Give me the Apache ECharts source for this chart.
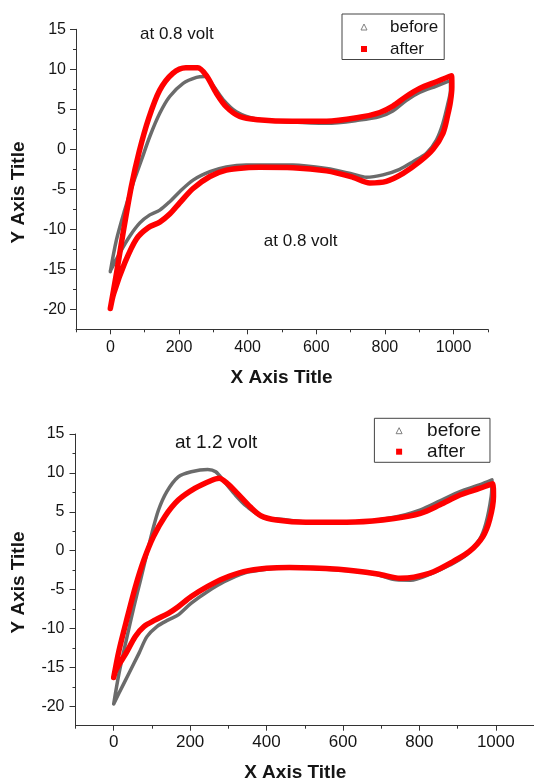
<!DOCTYPE html>
<html>
<head>
<meta charset="utf-8">
<title>CV before / after</title>
<script src="https://cdn.jsdelivr.net/npm/echarts@6/dist/echarts.min.js"></script>
<style>
  html, body { margin: 0; padding: 0; background: #fff; }
  #chart { width: 534px; height: 783px; }
</style>
</head>
<body>
<div id="chart"></div>
<script>
// tick values
const xMajor = [0, 200, 400, 600, 800, 1000];
const xMinor = [-100, 100, 300, 500, 700, 900, 1100];
const yMajor = [-20, -15, -10, -5, 0, 5, 10, 15];
const yMinor = [-17.5, -12.5, -7.5, -2.5, 2.5, 7.5, 12.5];

// top panel (0.8 volt) as [x, y]
const topBefore = [
  [0, -15.3], [18, -11.3], [42, -7.6], [66, -4.3], [91, -1.3], [115, 1.6], [144, 4.5],
  [173, 6.6], [212, 8.25], [251, 9.0], [275, 9.1], [299, 8.0], [328, 6.25], [367, 4.7],
  [425, 3.8], [532, 3.4], [630, 3.25], [726, 3.65], [785, 4.1], [823, 4.8], [862, 6.1],
  [901, 7.1], [950, 7.9], [991, 8.6], [991, 7.4], [985, 6.0], [969, 3.25], [950, 1.15],
  [921, -0.5], [882, -1.55], [843, -2.5], [794, -3.2], [746, -3.5], [707, -3.1],
  [630, -2.4], [532, -1.95], [435, -1.95], [396, -1.95], [338, -2.2], [290, -2.8],
  [241, -3.85], [202, -5.3], [173, -6.55], [144, -7.6], [115, -8.2], [86, -9.2],
  [56, -10.9], [27, -13.0], [0, -15.2]
];
const topAfter = [
  [0, -19.9], [18, -15.5], [37, -10.5], [61, -4.7], [84, -0.3], [112, 3.9], [144, 7.4],
  [182, 9.5], [220, 10.2], [255, 10.2], [280, 9.2], [309, 7.0], [338, 5.3], [377, 4.1],
  [430, 3.7], [530, 3.5], [630, 3.5], [726, 4.0], [785, 4.6], [823, 5.4], [862, 6.6],
  [901, 7.6], [950, 8.45], [994, 9.2], [995, 7.8], [991, 6.0], [983, 4.3], [969, 2.0],
  [940, 0.0], [901, -1.55], [853, -3.0], [804, -4.0], [756, -4.2], [707, -3.5],
  [630, -2.7], [532, -2.3], [435, -2.25], [396, -2.3], [338, -2.6], [290, -3.4],
  [241, -4.9], [202, -6.7], [173, -8.1], [144, -9.1], [110, -9.8], [76, -11.2],
  [42, -14.2], [10, -18.0], [0, -19.9]
];

// bottom panel (1.2 volt)
const botBefore = [
  [0, -19.7], [14, -15.75], [32, -11.7], [53, -7.2], [70, -3.8], [87, -0.35], [100, 2.25],
  [117, 5.2], [139, 7.6], [169, 9.5], [203, 10.15], [246, 10.45], [267, 10.15], [289, 8.9],
  [314, 7.4], [349, 5.65], [400, 4.15], [426, 4.1], [503, 3.7], [632, 3.7], [734, 4.3],
  [803, 5.25], [854, 6.4], [906, 7.6], [957, 8.45], [990, 9.1], [988, 7.0], [974, 3.5],
  [957, 1.4], [923, -0.55], [880, -1.85], [829, -3.0], [777, -3.8], [740, -3.75],
  [683, -3.0], [588, -2.5], [460, -2.2], [400, -2.4], [340, -2.9], [289, -4.0],
  [246, -5.25], [203, -6.75], [169, -8.25], [143, -8.9], [113, -9.75], [87, -11.05],
  [66, -13.2], [40, -15.75], [14, -18.3], [0, -19.7]
];
const botAfter = [
  [0, -16.3], [14, -12.8], [36, -8.5], [57, -4.6], [79, -1.2], [104, 1.8], [134, 4.4],
  [169, 6.5], [212, 8.0], [254, 9.0], [276, 9.3], [297, 8.65], [323, 7.4], [357, 5.65],
  [385, 4.5], [426, 3.95], [503, 3.65], [632, 3.7], [734, 4.15], [803, 4.8], [854, 5.9],
  [906, 7.15], [957, 8.0], [992, 8.6], [994, 7.0], [984, 4.0], [966, 1.8], [931, -0.1],
  [888, -1.4], [837, -2.7], [786, -3.4], [750, -3.55], [691, -3.0], [588, -2.4],
  [460, -2.15], [400, -2.26], [340, -2.7], [289, -3.55], [246, -4.6], [203, -5.9],
  [169, -7.2], [143, -8.05], [109, -8.9], [79, -9.75], [57, -11.0], [32, -13.2],
  [6, -15.3], [0, -16.3]
];

const FONT = '"Liberation Sans", Arial, Helvetica, sans-serif';
const AXIS_COLOR = '#333';
const TEXT_COLOR = '#151515';
const GREY = '#6b6b6b';
const RED = '#ff0000';

function plain(v) {
  return String(v);
}

function xAxes(grid, fontSize, margin) {
  return [
    {
      type: 'value', gridIndex: grid, position: 'bottom', min: -100, max: 1100,
      axisLine: { show: true, onZero: false, lineStyle: { color: AXIS_COLOR, width: 1 } },
      axisTick: { show: true, length: 5, customValues: xMajor, lineStyle: { color: AXIS_COLOR } },
      axisLabel: { customValues: xMajor, formatter: plain, margin: margin, fontSize: fontSize, fontFamily: FONT, color: TEXT_COLOR },
      splitLine: { show: false }
    },
    {
      type: 'value', gridIndex: grid, position: 'bottom', min: -100, max: 1100,
      axisLine: { show: false, onZero: false },
      axisTick: { show: true, length: 3, customValues: xMinor, lineStyle: { color: AXIS_COLOR } },
      axisLabel: { show: false },
      splitLine: { show: false }
    }
  ];
}

function yAxes(grid, fontSize, margin) {
  return [
    {
      type: 'value', gridIndex: grid, position: 'left', min: -22.5, max: 15,
      axisLine: { show: true, onZero: false, lineStyle: { color: AXIS_COLOR, width: 1 } },
      axisTick: { show: true, length: 6, customValues: yMajor, lineStyle: { color: AXIS_COLOR } },
      axisLabel: { customValues: yMajor, formatter: plain, margin: margin, fontSize: fontSize, fontFamily: FONT, color: TEXT_COLOR },
      splitLine: { show: false }
    },
    {
      type: 'value', gridIndex: grid, position: 'left', min: -22.5, max: 15,
      axisLine: { show: false, onZero: false },
      axisTick: { show: true, length: 3, customValues: yMinor, lineStyle: { color: AXIS_COLOR } },
      axisLabel: { show: false },
      splitLine: { show: false }
    }
  ];
}

const legendItems = [
  { name: 'before', icon: 'triangle', itemStyle: { color: '#fff', borderColor: '#808080', borderWidth: 1 } },
  { name: 'after', icon: 'rect', itemStyle: { color: RED, borderWidth: 0 } }
];

function loop(name, data, axisIdx, color, width, z) {
  return {
    name: name, type: 'line', xAxisIndex: axisIdx, yAxisIndex: axisIdx,
    data: data, smooth: 0.3, symbol: 'none', showSymbol: false,
    lineStyle: { color: color, width: width, join: 'round', cap: 'round' },
    itemStyle: { color: color }, z: z, silent: true
  };
}

function label(text, x, y, size, bold, rotate) {
  return {
    type: 'text', x: x, y: y, rotation: rotate ? Math.PI / 2 : 0, silent: true,
    style: {
      text: text, fill: TEXT_COLOR,
      font: (bold ? 'bold ' : '') + size + 'px ' + FONT,
      align: rotate ? 'center' : (bold ? 'center' : 'left'),
      verticalAlign: 'middle'
    }
  };
}

const chart = echarts.init(document.getElementById('chart'), null, { renderer: 'canvas' });

chart.setOption({
  animation: false,
  backgroundColor: '#fff',
  grid: [
    { left: 76, top: 29.3, width: 411.9, height: 300 },
    { left: 75.5, top: 434, width: 467, height: 291.7 }
  ],
  xAxis: xAxes(0, 16, 10).concat(xAxes(1, 17, 8)),
  yAxis: yAxes(0, 16, 10).concat(yAxes(1, 16, 11)),
  legend: [
    {
      orient: 'vertical', left: 342, top: 14, padding: [3.5, 6, 1, 18.5],
      itemWidth: 6, itemHeight: 6, itemGap: 3, selectedMode: false,
      borderColor: '#444', borderWidth: 1, data: legendItems,
      textStyle: { fontSize: 17, fontFamily: FONT, color: TEXT_COLOR, lineHeight: 19, padding: [0, 0, 0, 18] }
    },
    {
      orient: 'vertical', left: 374.4, top: 418.3, padding: [2.4, 9, 0.6, 21.2],
      itemWidth: 6, itemHeight: 6, itemGap: 1, selectedMode: false,
      borderColor: '#444', borderWidth: 1, data: legendItems,
      textStyle: { fontSize: 19, fontFamily: FONT, color: TEXT_COLOR, lineHeight: 20, padding: [0, 0, 0, 20] }
    }
  ],
  graphic: [
    label('Y Axis Title', 18.8, 192.5, 19, true, true),
    label('X Axis Title', 281.6, 377.7, 19, true, false),
    label('at 0.8 volt', 140, 34.3, 17, false, false),
    label('at 0.8 volt', 263.8, 241.7, 17, false, false),
    label('Y Axis Title', 18.8, 582.5, 19, true, true),
    label('X Axis Title', 295.2, 772.3, 19, true, false),
    label('at 1.2 volt', 175, 442.3, 19, false, false)
  ],
  series: [
    loop('before', topBefore, 0, GREY, 3.5, 2),
    loop('after', topAfter, 0, RED, 5.5, 3),
    loop('before', botBefore, 2, GREY, 3.5, 2),
    loop('after', botAfter, 2, RED, 5.5, 3)
  ]
});

window.addEventListener('resize', () => chart.resize());
</script>
</body>
</html>
